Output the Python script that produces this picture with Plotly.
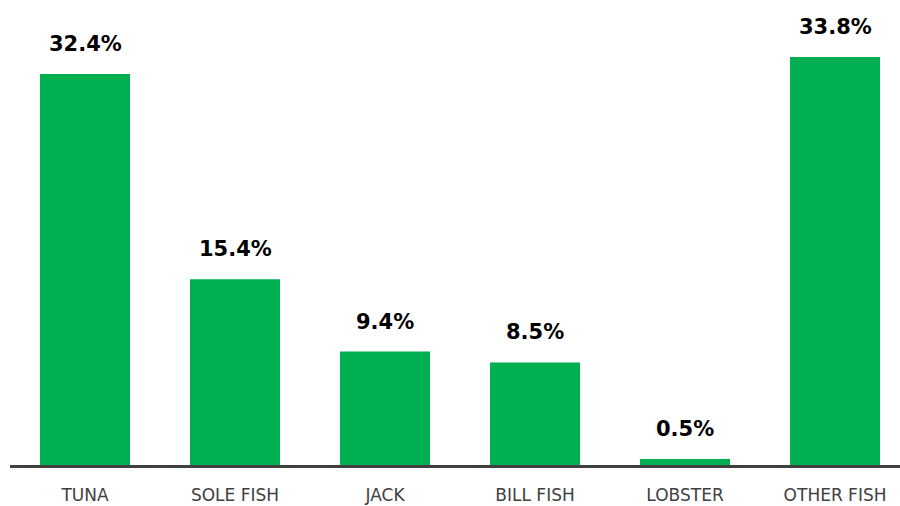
import plotly.graph_objects as go

categories = ["TUNA", "SOLE FISH", "JACK", "BILL FISH", "LOBSTER", "OTHER FISH"]
shares = [32.4, 15.4, 9.4, 8.5, 0.5, 33.8]

fig = go.Figure(
    go.Bar(
        x=categories,
        y=shares,
        marker=dict(color="#00B050", line=dict(width=0)),
        hoverinfo="skip",
    )
)

# value labels above each bar
for cat, val in zip(categories, shares):
    fig.add_annotation(
        x=cat, y=val, text=f"{val:.1f}%", showarrow=False,
        yanchor="middle", yshift=30,
        font=dict(family="DejaVu Sans", size=21, color="#000000", weight="bold"),
    )

fig.update_layout(
    width=900, height=506,
    margin=dict(l=10, r=0, t=0, b=41),
    paper_bgcolor="white", plot_bgcolor="white",
    bargap=0.4,
    showlegend=False,
    xaxis=dict(
        range=[-0.5, 5.433],
        showline=True, linecolor="#404040", linewidth=3,
        showgrid=False, ticks="", zeroline=False,
        ticklabelstandoff=13,
        tickfont=dict(family="DejaVu Sans", size=17, color="#404040"),
    ),
    yaxis=dict(
        range=[0, 38.53], visible=False, showgrid=False, zeroline=False,
    ),
)

fig.write_html("out.html")
